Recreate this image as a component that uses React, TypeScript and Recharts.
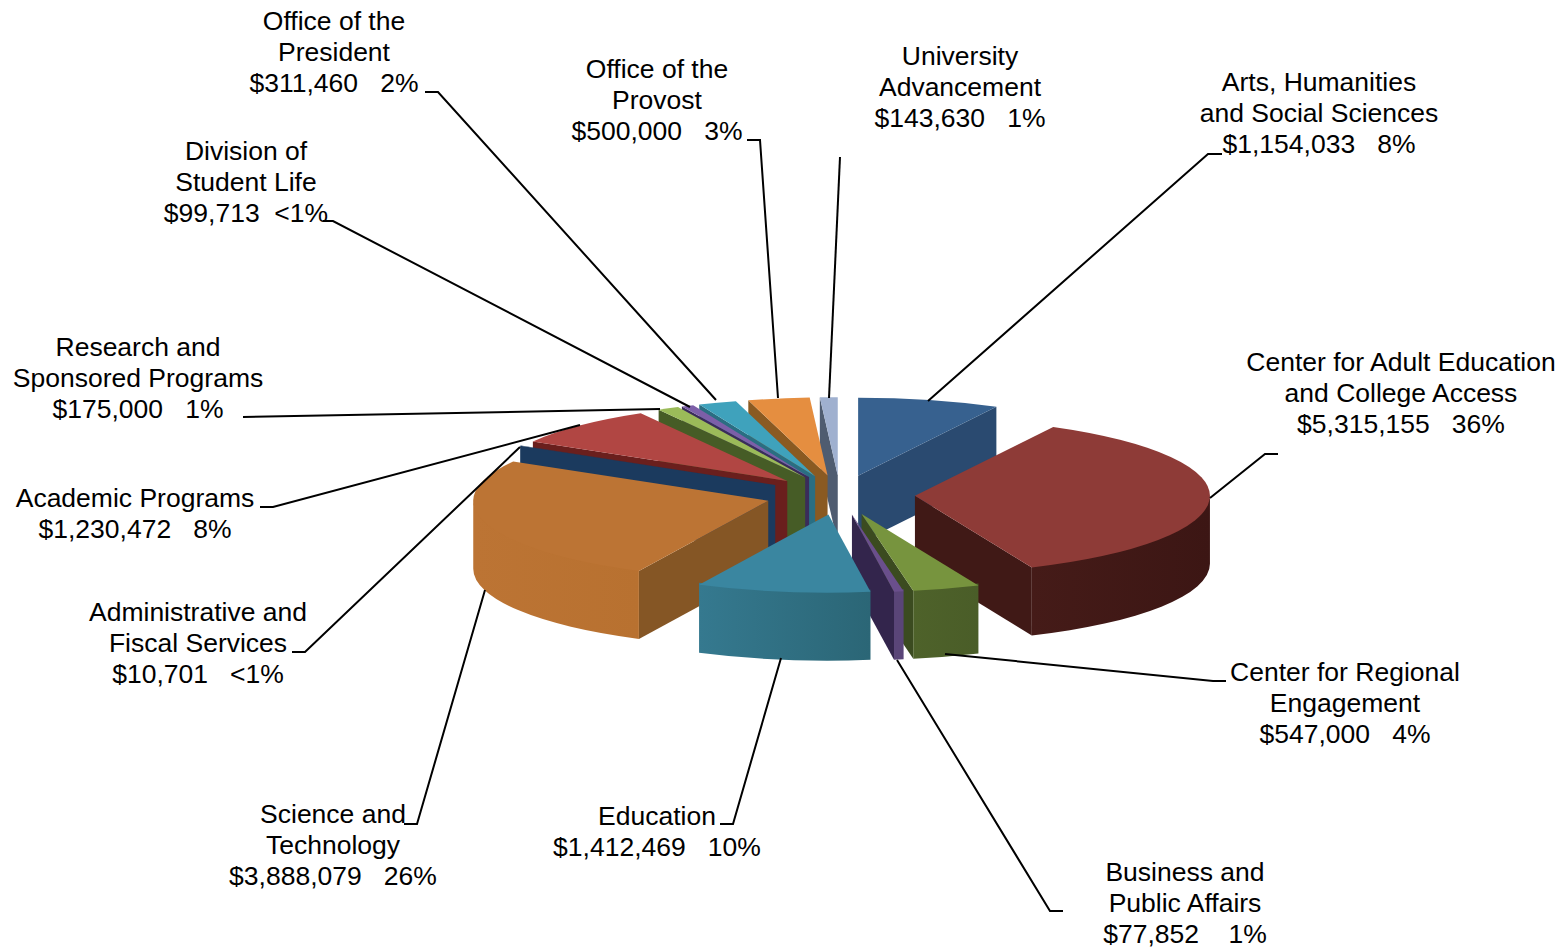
import React from 'react';
import { PieChart, Pie } from 'recharts';

// ---------- data ----------
const categories = [
  'Arts, Humanities and Social Sciences',
  'Center for Adult Education and College Access',
  'Center for Regional Engagement',
  'Business and Public Affairs',
  'Education',
  'Science and Technology',
  'Administrative and Fiscal Services',
  'Academic Programs',
  'Research and Sponsored Programs',
  'Division of Student Life',
  'Office of the President',
  'Office of the Provost',
  'University Advancement',
];
const amounts = [1154033, 5315155, 547000, 77852, 1412469, 3888079, 10701, 1230472, 175000, 99713, 311460, 500000, 143630];
const percentLabels = ['8%', '36%', '4%', '1%', '10%', '26%', '<1%', '8%', '1%', '<1%', '2%', '3%', '1%'];
const percentGaps = [3, 3, 3, 4, 3, 3, 3, 3, 3, 2, 3, 3, 3];
const labelNameLines = [
  ['Arts, Humanities', 'and Social Sciences'],
  ['Center for Adult Education', 'and College Access'],
  ['Center for Regional', 'Engagement'],
  ['Business and', 'Public Affairs'],
  ['Education'],
  ['Science and', 'Technology'],
  ['Administrative and', 'Fiscal Services'],
  ['Academic Programs'],
  ['Research and', 'Sponsored Programs'],
  ['Division of', 'Student Life'],
  ['Office of the', 'President'],
  ['Office of the', 'Provost'],
  ['University', 'Advancement'],
];

// ---------- styles & layout ----------
const topColors = ['#37618F', '#8E3B37', '#77943E', '#6A4F8C', '#3A86A0', '#BC7434', '#1B3A5E', '#B14643', '#9BBB59', '#7C5FA8', '#3FA2BC', '#E58E40', '#9FB0CF'];
const cutColors = ['#2A4A70', '#401916', '#3B4B20', '#33254C', '#2B6676', '#855625', '#1B3A5E', '#6A1F1D', '#465C26', '#3A2C5A', '#2A6E82', '#8A5A22', '#4F5C70'];
const rimLeft = ['#2A4A70', '#451B18', '#4E622A', '#5A4578', '#35798F', '#BC7434', '#1B3A5E', '#6A1F1D', '#465C26', '#3A2C5A', '#2A6E82', '#8A5A22', '#4F5C70'];
const rimRight = ['#2A4A70', '#3C1614', '#4A5D28', '#5A4578', '#2B6676', '#B87130', '#1B3A5E', '#6A1F1D', '#465C26', '#3A2C5A', '#2A6E82', '#8A5A22', '#4F5C70'];
const labelCenterX = [1319, 1401, 1345, 1185, 657, 333, 198, 135, 138, 246, 334, 657, 960];
const labelFirstLineY = [82, 362, 672, 872, 816, 814, 612, 498, 347, 151, 21, 69, 56];
const leaders = [
  '1222,154 1208,154 928,401',
  '1278,454 1265,454 1210,498',
  '1226,681 1213,681 945,654',
  '1063,911 1050,911 897,660',
  '720,824 733,824 781,658',
  '404,824 417,824 485,590',
  '292,652 305,652 520,447',
  '260,507 273,507 580,425',
  '243,417 660,409',
  '323,221 333,221 690,407',
  '425,92 438,92 716,400',
  '747,140 760,140 778,398',
  '840,157 829,398',
];

const WIDTH = 1566;
const HEIGHT = 948;
const CX = 840;
const CY = 495;
const RX = 295;
const TILT = 78 / 295;
const EXPLODE = 75;
const DEPTH = 68;
const LINE_HEIGHT = 30.9;
const FONT_SIZE = 26.5;

const table = categories.map((name, i) => ({ name, value: amounts[i], idx: i }));
const reversedTable = [...table].reverse();
const RIGHT_COUNT = 4; // wedges painted in clockwise order; the rest back-to-front anticlockwise

const rad = (d: number) => (d * Math.PI) / 180;

function Wedge(props: any) {
  const idx: number = props.payload?.idx ?? props.idx;
  const { cx, cy, outerRadius: rx, startAngle, endAngle } = props;
  let a = 90 - Math.max(startAngle, endAngle);
  let b = 90 - Math.min(startAngle, endAngle);
  if (a < 0) { a += 360; b += 360; }
  const ry = rx * TILT;
  const mid = (a + b) / 2;
  const ax = cx + EXPLODE * Math.sin(rad(mid));
  const ay = cy - EXPLODE * TILT * Math.cos(rad(mid));
  const pt = (t: number, dz = 0): [number, number] => [ax + rx * Math.sin(rad(t)), ay - ry * Math.cos(rad(t)) + dz];
  const [x1, y1] = pt(a);
  const [x2, y2] = pt(b);
  const large = b - a > 180 ? 1 : 0;
  const top = `M${ax},${ay}L${x1},${y1}A${rx},${ry} 0 ${large} 1 ${x2},${y2}Z`;
  const cut = (t: number) => {
    const [x, y] = pt(t);
    return `M${ax},${ay}L${x},${y}L${x},${y + DEPTH}L${ax},${ay + DEPTH}Z`;
  };
  const r1 = Math.max(a, 90);
  const r2 = Math.min(b, 270);
  let rim: string | null = null;
  if (r2 > r1) {
    const [p, q] = pt(r1);
    const [s, u] = pt(r2);
    // the rim starts a little above the edge so no background shows through the seam under the top face
    rim = `M${p},${q - 2}A${rx},${ry} 0 0 1 ${s},${u - 2}L${s},${u + DEPTH}A${rx},${ry} 0 0 0 ${p},${q + DEPTH}Z`;
  }
  const gradId = `rim-${idx}`;
  return (
    <g>
      <defs>
        <linearGradient id={gradId} x1="1" y1="0" x2="0" y2="0">
          <stop offset="0" stopColor={rimRight[idx]} />
          <stop offset="1" stopColor={rimLeft[idx]} />
        </linearGradient>
      </defs>
      {Math.sin(rad(a)) < 0 && <path d={cut(a)} fill={cutColors[idx]} />}
      {Math.sin(rad(b)) > 0 && <path d={cut(b)} fill={cutColors[idx]} />}
      {rim && <path d={rim} fill={rimLeft[idx] === rimRight[idx] ? rimLeft[idx] : `url(#${gradId})`} />}
      <path d={top} fill={topColors[idx]} />
    </g>
  );
}

const rightShape = (props: any) => ((props.payload?.idx ?? props.idx) < RIGHT_COUNT ? <Wedge {...props} /> : <g />);
const leftShape = (props: any) => ((props.payload?.idx ?? props.idx) >= RIGHT_COUNT ? <Wedge {...props} /> : <g />);

function renderLabel(props: any) {
  const idx: number = props.payload?.idx ?? props.idx;
  const x = labelCenterX[idx];
  const first = labelFirstLineY[idx] + 9;
  const lines = [
    ...labelNameLines[idx],
    `$${amounts[idx].toLocaleString('en-US')}${' '.repeat(percentGaps[idx])}${percentLabels[idx]}`,
  ];
  return (
    <g key={`label-${idx}`}>
      <polyline points={leaders[idx]} fill="none" stroke="#000" strokeWidth={2} />
      {lines.map((line, i) => (
        <text
          key={i}
          x={x}
          y={first + i * LINE_HEIGHT}
          textAnchor="middle"
          fill="#000"
          fontFamily="'Liberation Sans', Arial, sans-serif"
          fontSize={FONT_SIZE}
          style={{ whiteSpace: 'pre' }}
        >
          {line}
        </text>
      ))}
    </g>
  );
}

export default function App() {
  return (
    <div style={{ position: 'absolute', left: 0, top: 0, width: WIDTH, height: HEIGHT, background: '#fff' }}>
      <PieChart width={WIDTH} height={HEIGHT} margin={{ top: 0, right: 0, bottom: 0, left: 0 }}>
        <Pie
          data={table}
          dataKey="value"
          nameKey="name"
          cx={CX}
          cy={CY}
          innerRadius={0}
          outerRadius={RX}
          startAngle={90}
          endAngle={-270}
          stroke="none"
          shape={rightShape}
          label={false}
          labelLine={false}
          isAnimationActive={false}
        />
        <Pie
          data={reversedTable}
          dataKey="value"
          nameKey="name"
          cx={CX}
          cy={CY}
          innerRadius={0}
          outerRadius={RX}
          startAngle={90}
          endAngle={450}
          stroke="none"
          shape={leftShape}
          label={renderLabel}
          labelLine={false}
          isAnimationActive={false}
        />
      </PieChart>
    </div>
  );
}
